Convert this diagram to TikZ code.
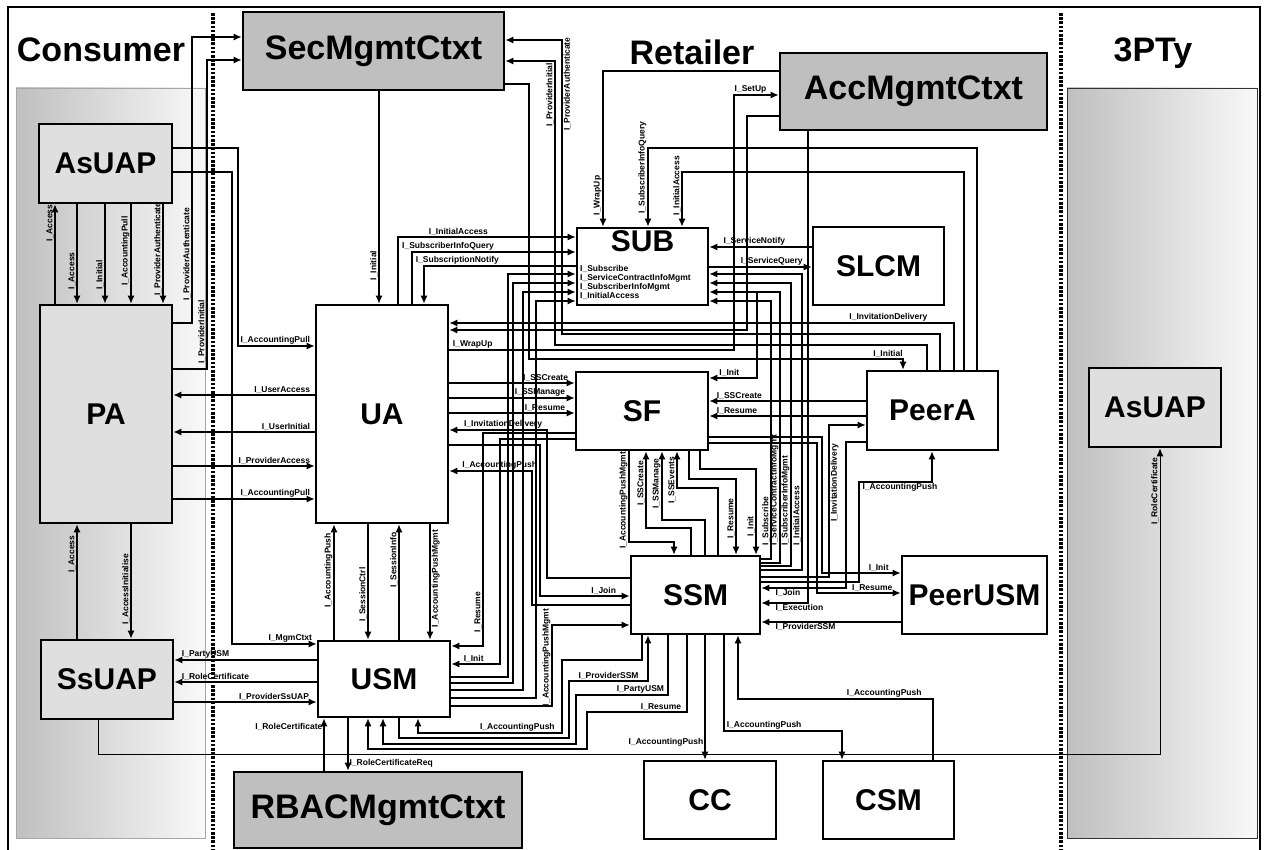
\documentclass[tikz,border=0pt]{standalone}
\usepackage{fontspec}
\setmainfont{Liberation Sans}
\usetikzlibrary{arrows.meta,positioning}

\begin{document}
\begin{tikzpicture}[
      x=1pt,y=-1pt,
      unit/.style={draw,line width=2.6pt,fill=white,inner sep=0pt,font=\fontsize{30}{30}\selectfont\bfseries},
      agent/.style={unit,fill=gray!25},
      ctxt/.style={unit,fill=gray!50,font=\fontsize{34}{34}\selectfont\bfseries},
      realm/.style={font=\fontsize{34}{34}\selectfont\bfseries,inner sep=0pt},
      zone/.style={draw=gray!70,line width=.8pt,left color=gray!50,right color=gray!5},
      partition/.style={line width=3.5pt,dash pattern=on 2.6pt off 1.6pt},
      wire/.style={line width=1.3pt},
      lbl/.style={font=\fontsize{8.5}{9}\selectfont\bfseries,inner sep=1pt},
      vlbl/.style={lbl,rotate=90},
      >={Latex[length=8pt,width=7pt]}
    ]
    \useasboundingbox (0,0) rectangle (1267,850);

    % frame and domain borders
    \draw[line width=2pt] (8,850) -- (8,7) -- (1260,7) -- (1260,850);
    \draw[zone] (16,88) rectangle (205,838);
    \draw[zone,draw=black!80] (1067,88) rectangle (1257,838);
    \draw[partition] (213,13) -- (213,850);
    \draw[partition] (1061,13) -- (1061,850);
    \node[realm,anchor=base] (consumer) at (101,62) {Consumer};
    \node[realm,anchor=base] (retailer) at (692,65) {Retailer};
    \node[realm,anchor=base] (thirdparty) at (1153,62) {3PTy};

    % management contexts
    \node[ctxt,minimum width=261pt,minimum height=78pt] (sec) at (373.5,51) {SecMgmtCtxt};
    \node[ctxt,minimum width=267pt,minimum height=77pt] (acc) at (913.5,91.5) {AccMgmtCtxt};
    \node[ctxt,minimum width=288pt,minimum height=76pt] (rbac) at (378,810) {RBACMgmtCtxt};

    % consumer and third party agents
    \node[agent,minimum width=133pt,minimum height=79pt] (asuapC) at (105.5,163.5) {AsUAP};
    \node[agent,minimum width=132pt,minimum height=218pt] (pa) at (106,414) {PA};
    \node[agent,minimum width=132pt,minimum height=79pt] (ssuap) at (107,679.5) {SsUAP};
    \node[agent,minimum width=132pt,minimum height=79pt] (asuapT) at (1155,407.5) {AsUAP};

    % retailer components
    \node[unit,minimum width=132pt,minimum height=218pt] (ua) at (382,414) {UA};
    \node[unit,minimum width=132pt,minimum height=76pt] (usm) at (384,679) {USM};
    \node[unit,minimum width=131pt,minimum height=77pt] (sub) at (642.5,266.5) {};
    \node[unit,fill=none,draw=none,below=3pt of sub.north] (subname) {SUB};
    \node[unit,minimum width=131pt,minimum height=78pt] (slcm) at (878.5,266) {SLCM};
    \node[unit,minimum width=132pt,minimum height=78pt] (sf) at (642,411) {SF};
    \node[unit,minimum width=131pt,minimum height=79pt] (peera) at (932.5,410.5) {PeerA};
    \node[unit,minimum width=129pt,minimum height=78pt] (ssm) at (695.5,595) {SSM};
    \node[unit,minimum width=145pt,minimum height=78pt] (peerusm) at (974.5,595) {PeerUSM};
    \node[unit,minimum width=132pt,minimum height=78pt] (cc) at (710,800) {CC};
    \node[unit,minimum width=131pt,minimum height=78pt] (csm) at (888.5,800) {CSM};

    % interfaces listed inside SUB
    \node[lbl,anchor=base west] (subif1) at (579,272) {I\_Subscribe};
    \node[lbl,anchor=base west] (subif2) at (579,281) {I\_ServiceContractInfoMgmt};
    \node[lbl,anchor=base west] (subif3) at (579,290) {I\_SubscriberInfoMgmt};
    \node[lbl,anchor=base west] (subif4) at (579,299) {I\_InitialAccess};

    % consumer side
    \draw[wire,->] (pa.east |- 0,323) -- (192,323) -- node[vlbl,anchor=south,pos=.24] {I\_ProviderAuthenticate} (192,37) -- (sec.west |- 0,37);
    \draw[wire,->] (pa.east |- 0,369) -- (207,369) -- node[vlbl,anchor=south,pos=.12] {I\_ProviderInitial} (207,60) -- (sec.west |- 0,60);
    \draw[wire,->] (asuapC.east |- 0,148) -- (238,148) -- (238,346) -- node[lbl,anchor=south east,pos=1,xshift=-3pt] {I\_AccountingPull} (ua.west |- 0,346);
    \draw[wire,->] (asuapC.east |- 0,172) -- (232,172) -- (232,644) -- node[lbl,anchor=south east,pos=1,xshift=-3pt] {I\_MgmCtxt} (usm.west |- 0,644);
    \draw[wire,->] (pa.north -| 55,0) -- node[vlbl,anchor=south,pos=.81] {I\_Access} (asuapC.south -| 55,0);
    \draw[wire,->] (asuapC.south -| 77,0) -- node[vlbl,anchor=south,pos=.67] {I\_Access} (pa.north -| 77,0);
    \draw[wire,->] (asuapC.south -| 105,0) -- node[vlbl,anchor=south,pos=.71] {I\_Initial} (pa.north -| 105,0);
    \draw[wire,->] (asuapC.south -| 131,0) -- node[vlbl,anchor=south,pos=.47] {I\_AccountingPull} (pa.north -| 131,0);
    \draw[wire,->] (asuapC.south -| 163,0) -- node[vlbl,anchor=south,pos=.45] {I\_ProviderAuthenticate} (pa.north -| 163,0);
    \draw[wire,->] (ua.west |- 0,395) -- node[lbl,anchor=south east,pos=0,xshift=-3pt] {I\_UserAccess} (pa.east |- 0,395);
    \draw[wire,->] (ua.west |- 0,432) -- node[lbl,anchor=south east,pos=0,xshift=-3pt] {I\_UserInitial} (pa.east |- 0,432);
    \draw[wire,->] (pa.east |- 0,466) -- node[lbl,anchor=south east,pos=1,xshift=-3pt] {I\_ProviderAccess} (ua.west |- 0,466);
    \draw[wire,->] (pa.east |- 0,499) -- node[lbl,anchor=south east,pos=1,xshift=-3pt] {I\_AccountingPull} (ua.west |- 0,499);
    \draw[wire,->] (ssuap.north -| 77,0) -- node[vlbl,anchor=south,pos=.74] {I\_Access} (pa.south -| 77,0);
    \draw[wire,->] (pa.south -| 131,0) -- node[vlbl,anchor=south,pos=.57] {I\_AccessInitialise} (ssuap.north -| 131,0);
    \draw[wire,->] (usm.west |- 0,660) -- node[lbl,anchor=south west,pos=1,xshift=6pt] {I\_PartyUSM} (ssuap.east |- 0,660);
    \draw[wire,->] (usm.west |- 0,682) -- node[lbl,anchor=south west,pos=1,xshift=6pt] {I\_RoleCertificate} (ssuap.east |- 0,682);
    \draw[wire,->] (ssuap.east |- 0,702) -- node[lbl,anchor=south east,pos=1,xshift=-6pt] {I\_ProviderSsUAP} (usm.west |- 0,702);
    \draw[line width=1pt,->] (ssuap.south -| 98,0) -- (98,754) -- (1160,754) -- node[vlbl,anchor=south,pos=.86] {I\_RoleCertificate} (asuapT.south -| 1160,0);
    \draw[wire,->] (rbac.north -| 324,0) -- node[lbl,anchor=east,pos=.84] {I\_RoleCertificate} (usm.south -| 324,0);
    \draw[wire,->] (usm.south -| 348,0) -- node[lbl,anchor=west,pos=.85] {I\_RoleCertificateReq} (rbac.north -| 348,0);

    % UA, USM and security context
    \draw[wire,->] (sec.south -| 379,0) -- node[vlbl,anchor=south,pos=.82] {I\_Initial} (ua.north -| 379,0);
    \draw[wire,->] (usm.north -| 334,0) -- node[vlbl,anchor=south,pos=.6] {I\_AccountingPush} (ua.south -| 334,0);
    \draw[wire,->] (ua.south -| 368,0) -- node[vlbl,anchor=south,pos=.61] {I\_SessionCtrl} (usm.north -| 368,0);
    \draw[wire,->] (usm.north -| 399,0) -- node[vlbl,anchor=south,pos=.69] {I\_SessionInfo} (ua.south -| 399,0);
    \draw[wire,->] (ua.south -| 430,0) -- node[vlbl,anchor=north,pos=.47] {I\_AccountingPushMgmt} (usm.north -| 430,0);

    % subscription
    \draw[wire,->] (ua.north -| 398,0) -- (398,237) -- node[lbl,above,pos=.34] {I\_InitialAccess} (sub.west |- 0,237);
    \draw[wire,->] (ua.north -| 412,0) -- (412,252) -- node[lbl,above,pos=.22] {I\_SubscriberInfoQuery} (sub.west |- 0,252);
    \draw[wire,->] (sub.west |- 0,266) -- node[lbl,above,pos=.78] {I\_SubscriptionNotify} (424,266) -- (ua.north -| 424,0);
    \draw[wire,->] (usm.east |- 0,677) -- (508,677) -- (508,274) -- (sub.west |- 0,274);
    \draw[wire,->] (usm.east |- 0,683) -- (513,683) -- (513,283) -- (sub.west |- 0,283);
    \draw[wire,->] (usm.east |- 0,690) -- (523,690) -- (523,292) -- (sub.west |- 0,292);
    \draw[wire,->] (usm.east |- 0,698) -- (536,698) -- (536,301) -- (sub.west |- 0,301);
    \draw[wire,->] (acc.west |- 0,71) -- (603,71) -- node[vlbl,anchor=south,pos=.8] {I\_WrapUp} (sub.north -| 603,0);
    \draw[wire,->] (peera.north -| 977,0) -- (977,148) -- (648,148) -- node[vlbl,anchor=south,pos=.25] {I\_SubscriberInfoQuery} (sub.north -| 648,0);
    \draw[wire,->] (peera.north -| 964,0) -- (964,172) -- (682,172) -- node[vlbl,anchor=south,pos=.25] {I\_InitialAccess} (sub.north -| 682,0);
    \draw[wire,->] (slcm.west |- 0,247) -- node[lbl,above,pos=.56] {I\_ServiceNotify} (sub.east |- 0,247);
    \draw[wire,->] (sub.east |- 0,267) -- node[lbl,above,pos=.61] {I\_ServiceQuery} (slcm.west |- 0,267);
    \draw[wire,->] (ssm.east |- 0,559) -- (771,559) -- node[vlbl,anchor=south west,pos=.047] {I\_Subscribe} (771,301) -- (sub.east |- 0,301);
    \draw[wire,->] (ssm.east |- 0,563) -- (780,563) -- node[vlbl,anchor=south west,pos=.06] {I\_ServiceContractInfoMgmt} (780,292) -- (sub.east |- 0,292);
    \draw[wire,->] (ssm.east |- 0,566) -- (791,566) -- node[vlbl,anchor=south west,pos=.067] {I\_SubscriberInfoMgmt} (791,283) -- (sub.east |- 0,283);
    \draw[wire,->] (ssm.east |- 0,570) -- (802,570) -- node[vlbl,anchor=south west,pos=.078] {I\_InitialAccess} (802,274) -- (sub.east |- 0,274);
    \coordinate (initfork) at (757,292);
    \draw[wire,->] (initfork) -- (757,378) -- node[lbl,above,pos=.58] {I\_Init} (sf.east |- 0,378);

    % security and accounting contexts to the retailer
    \draw[wire,->] (peera.north -| 940,0) -- (940,334) -- (562,334) -- node[vlbl,anchor=north,pos=.85] {I\_ProviderAuthenticate} (562,40) -- (sec.east |- 0,40);
    \draw[wire,->] (peera.north -| 927,0) -- (927,345) -- (555,345) -- node[vlbl,anchor=south,pos=.88] {I\_ProviderInitial} (555,61) -- (sec.east |- 0,61);
    \draw[wire,->] (sec.east |- 0,84) -- (529,84) -- (529,359) -- node[lbl,above,pos=.96] {I\_Initial} (903,359) -- (peera.north -| 903,0);
    \draw[wire,->] (peera.north -| 954,0) -- (954,323) -- node[lbl,above,pos=.13] {I\_InvitationDelivery} (ua.east |- 0,323);
    \draw[wire,->] (acc.west |- 0,116) -- (747,116) -- (747,330) -- (ua.east |- 0,330);
    \draw[wire,->] (ua.east |- 0,350) -- node[lbl,anchor=south west,pos=0,xshift=2pt] {I\_WrapUp} (734,350) -- (734,95) -- node[lbl,above,pos=.37] {I\_SetUp} (acc.west |- 0,95);
    \draw[wire,->] (acc.south -| 808,0) -- (808,603) -- node[lbl,anchor=north west,pos=.73] {I\_Execution} (ssm.east |- 0,603);

    % session facilities
    \draw[wire,->] (ua.east |- 0,383) -- node[lbl,anchor=south east,pos=1,xshift=-5pt] {I\_SSCreate} (sf.west |- 0,383);
    \draw[wire,->] (ua.east |- 0,398) -- node[lbl,anchor=south east,pos=1,xshift=-8pt] {I\_SSManage} (sf.west |- 0,398);
    \draw[wire,->] (ua.east |- 0,413) -- node[lbl,anchor=south east,pos=1,xshift=-8pt] {I\_Resume} (sf.west |- 0,413);
    \draw[wire,->] (ssm.west |- 0,578) -- (547,578) -- (547,430) -- node[lbl,above,pos=.45] {I\_InvitationDelivery} (ua.east |- 0,430);
    \draw[wire,->] (ssm.west |- 0,605) -- (532,605) -- (532,471) -- node[lbl,above,pos=.39] {I\_AccountingPush} (ua.east |- 0,471);
    \draw[wire,->] (ua.east |- 0,445) -- (540,445) -- (540,596) -- node[lbl,above,pos=.71] {I\_Join} (ssm.west |- 0,596);
    \draw[wire,->] (sf.west |- 0,433) -- (483,433) -- node[vlbl,anchor=south,pos=.84] {I\_Resume} (483,646) -- (usm.east |- 0,646);
    \draw[wire,->] (sf.west |- 0,439) -- (500,439) -- (500,664) -- node[lbl,above,pos=.54] {I\_Init} (usm.east |- 0,664);
    \draw[wire,->] (usm.east |- 0,706) -- (552,706) -- node[vlbl,anchor=south,pos=.6] {I\_AccountingPushMgmt} (552,625) -- (ssm.west |- 0,625);
    \draw[wire,->] (sf.south -| 629,0) -- node[vlbl,anchor=south,pos=.54] {I\_AccountingPushMgmt} (629,542) -- (674,542) -- (ssm.north -| 674,0);
    \draw[wire,->] (ssm.north -| 691,0) -- (691,528) -- (646,528) -- node[vlbl,anchor=south,pos=.58] {I\_SSCreate} (sf.south -| 646,0);
    \draw[wire,->] (ssm.north -| 705,0) -- (705,520) -- (662,520) -- node[vlbl,anchor=south,pos=.53] {I\_SSManage} (sf.south -| 662,0);
    \draw[wire,->] (ssm.north -| 718,0) -- (718,488) -- (677,488) -- node[vlbl,anchor=south,pos=.21] {I\_SSEvents} (sf.south -| 677,0);
    \draw[wire,->] (sf.south -| 689,0) -- (689,479) -- (736,479) -- node[vlbl,anchor=south,pos=.52] {I\_Resume} (ssm.north -| 736,0);
    \draw[wire,->] (sf.south -| 700,0) -- (700,469) -- (756,469) -- node[vlbl,anchor=south,pos=.67] {I\_Init} (ssm.north -| 756,0);

    % peers
    \draw[wire,->] (peera.west |- 0,401) -- node[lbl,anchor=south west,pos=1,xshift=6pt] {I\_SSCreate} (sf.east |- 0,401);
    \draw[wire,->] (peera.west |- 0,416) -- node[lbl,anchor=south west,pos=1,xshift=6pt] {I\_Resume} (sf.east |- 0,416);
    \draw[wire,->] (ssm.east |- 0,577) -- (829,577) -- node[vlbl,anchor=north,pos=.62] {I\_InvitationDelivery} (829,425) -- (peera.west |- 0,425);
    \draw[wire,->] (peera.west |- 0,442) -- (846,442) -- (846,588) -- node[lbl,anchor=north west,pos=.85] {I\_Join} (ssm.east |- 0,588);
    \draw[wire,->] (ssm.east |- 0,582) -- (859,582) -- (859,482) -- node[lbl,anchor=north west,pos=0,xshift=2pt] {I\_AccountingPush} (932,482) -- (peera.south -| 932,0);
    \draw[wire,->] (sf.east |- 0,437) -- (822,437) -- (822,573) -- node[lbl,above,pos=.72] {I\_Init} (peerusm.west |- 0,573);
    \draw[wire,->] (sf.east |- 0,443) -- (817,443) -- (817,593) -- node[lbl,above,pos=.66] {I\_Resume} (peerusm.west |- 0,593);
    \draw[wire,->] (peerusm.west |- 0,622) -- node[lbl,anchor=north west,pos=.91] {I\_ProviderSSM} (ssm.east |- 0,622);

    % session management to the user side and charging
    \draw[wire,->] (usm.south -| 399,0) -- (399,738) -- (569,738) -- (569,681) -- node[lbl,above,pos=.5] {I\_ProviderSSM} (648,681) -- (ssm.south -| 648,0);
    \draw[wire,->] (ssm.south -| 642,0) -- (642,660) -- (562,660) -- (562,733) -- node[lbl,above,pos=.31] {I\_AccountingPush} (418,733) -- (usm.south -| 418,0);
    \draw[wire,->] (ssm.south -| 668,0) -- (668,695) -- node[lbl,above,pos=.3] {I\_PartyUSM} (576,695) -- (576,744) -- (383,744) -- (usm.south -| 383,0);
    \draw[wire,->] (ssm.south -| 687,0) -- (687,712) -- node[lbl,above,pos=.26] {I\_Resume} (587,712) -- (587,749) -- (368,749) -- (usm.south -| 368,0);
    \draw[wire,->] (ssm.south -| 705,0) -- node[lbl,anchor=east,pos=.86] {I\_AccountingPush} (cc.north -| 705,0);
    \draw[wire,->] (ssm.south -| 724,0) -- (724,731) -- node[lbl,above,pos=.34] {I\_AccountingPush} (842,731) -- (csm.north -| 842,0);
    \draw[wire,->] (csm.north -| 933,0) -- (933,699) -- node[lbl,above,pos=.25] {I\_AccountingPush} (738,699) -- (ssm.south -| 738,0);
\end{tikzpicture}
\end{document}
